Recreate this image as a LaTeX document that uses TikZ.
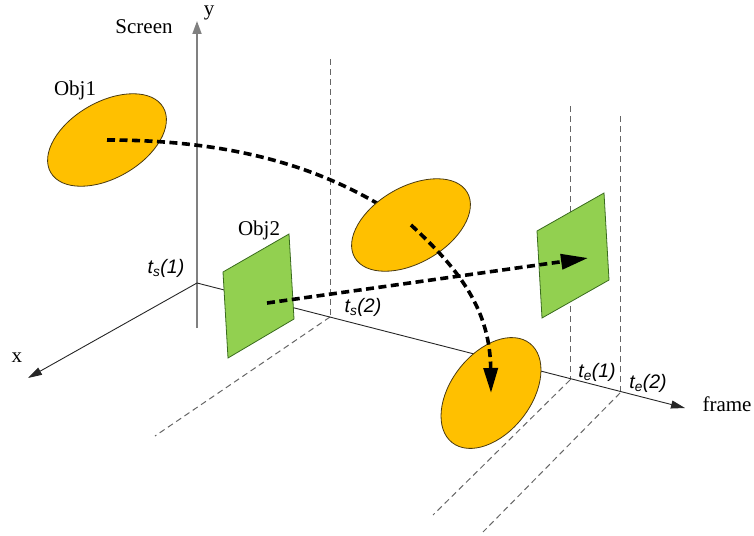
\documentclass[tikz,border=0pt]{standalone}
\usepackage{fontspec}
\setmainfont{Liberation Serif}
\setsansfont{Liberation Sans}
\usetikzlibrary{arrows.meta,shapes.geometric}
\definecolor{objorange}{HTML}{FFC000}
\definecolor{objgreen}{HTML}{92D050}
\definecolor{greenline}{HTML}{3A6B1E}
\definecolor{ellline}{HTML}{4A3A10}
\begin{document}
\begin{tikzpicture}[x=1pt,y=-1pt,
  axis/.style={draw=black!85, line width=0.9pt},
  yaxis/.style={draw=black!50, line width=1.8pt},
  guide/.style={draw=black!60, dash pattern=on 6pt off 4pt, line width=1pt},
  track/.style={draw=black, line width=3.6pt, dash pattern=on 8pt off 4.5pt},
  orangeobj/.style={ellipse, draw=ellline, fill=objorange, line width=0.8pt, inner sep=0pt, minimum width=130pt, minimum height=76pt},
  greenobj/.style={draw=greenline, fill=objgreen, line width=0.8pt},
  lbl/.style={font=\fontsize{21}{24}\selectfont, inner sep=0pt},
  tlbl/.style={font=\sffamily\itshape\fontsize{19.5}{23}\selectfont, inner sep=0pt}]
\useasboundingbox (0,0) rectangle (754,535);
% key points
\coordinate (O) at (197,283);
\coordinate (xend) at (28,378);
\coordinate (ytop) at (197,21);
\coordinate (ybot) at (197,328);
\coordinate (fend) at (685,408);
\coordinate (ts2) at (330,317);
\coordinate (te1) at (570,380);
\coordinate (te2) at (620,393);
\coordinate (g1) at (330,59);
\coordinate (g2) at (570,106);
\coordinate (g3) at (620,116);
\coordinate (d1) at (155,436);
\coordinate (d2) at (433,515);
\coordinate (d3) at (483,532);
% guides
\draw[guide] (g1) -- (ts2);
\draw[guide] (g2) -- (te1);
\draw[guide] (g3) -- (te2);
\draw[guide] (ts2) -- (d1);
\draw[guide] (te1) -- (d2);
\draw[guide] (te2) -- (d3);
% axes
\draw[yaxis, -{Triangle[length=13pt,width=9pt]}] (ybot) -- (ytop);
\draw[axis, -{Triangle[length=14pt,width=8pt]}] (O) -- (xend);
\draw[axis, -{Triangle[length=14pt,width=8pt]}] (O) -- (fend);
% object 1 track
\node[orangeobj, rotate=30] (o1) at (107,140) {};
\coordinate (c2) at (411,225);
\draw[track] (o1.center) .. controls (250,140) and (340,175) .. (c2);
\node[orangeobj, rotate=30] (o2) at (c2) {};
\node[orangeobj, rotate=52, minimum width=126pt, minimum height=80pt] (o3) at (491,393) {};
\draw[track, -{Triangle[length=25pt,width=14pt]}] (o2.center) .. controls (460,270) and (490,310) .. (o3.center);
% object 2 track
\coordinate (a1) at (223,272);
\coordinate (a2) at (289,234);
\coordinate (a3) at (294,319);
\coordinate (a4) at (228,358);
\draw[greenobj] (a1) -- (a2) -- (a3) -- (a4) -- cycle;
\coordinate (b1) at (537,231);
\coordinate (b2) at (604,193);
\coordinate (b3) at (609,280);
\coordinate (b4) at (542,318);
\draw[greenobj] (b1) -- (b2) -- (b3) -- (b4) -- cycle;
\coordinate (s2) at (267,303);
\coordinate (e2) at (588,258);
\draw[track, -{Triangle[length=27pt,width=15pt]}] (s2) -- (e2);
% labels
\node[lbl] (ylab) at (209,13) {y};
\node[lbl] (screen) at (144,27) {Screen};
\node[lbl] (xlab) at (17,358) {x};
\node[lbl] (framelab) at (727,404) {frame};
\node[lbl] (obj1lab) at (75,90) {Obj1};
\node[lbl] (obj2lab) at (259,230) {Obj2};
\node[tlbl] (ts1lab) at (166,268) {t\textsubscript{s}(1)};
\node[tlbl] (ts2lab) at (363,307) {t\textsubscript{s}(2)};
\node[tlbl] (te1lab) at (597,372) {t\textsubscript{e}(1)};
\node[tlbl] (te2lab) at (648,383) {t\textsubscript{e}(2)};
\end{tikzpicture}
\end{document}
